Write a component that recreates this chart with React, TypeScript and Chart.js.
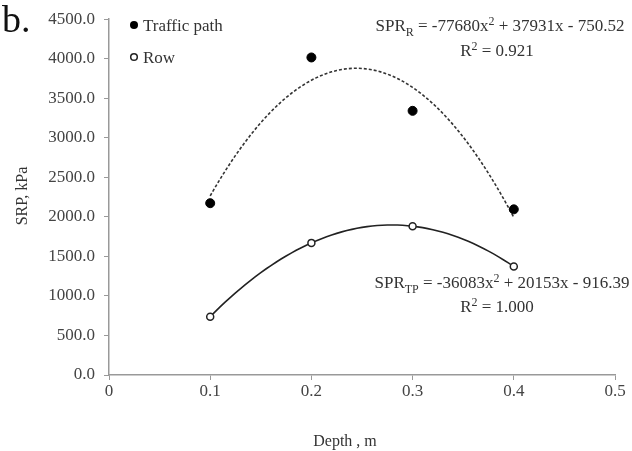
import React, { useEffect, useRef } from 'react';
import { Chart, registerables } from 'chart.js';
Chart.register(...registerables);

const depths = [0.1, 0.2, 0.3, 0.4];
const trafficPath = [2173, 4016, 3341, 2095];
const row = [738, 1671, 1882, 1372];
const coefR = [-77680, 37931, -750.52];
const coefTP = [-36083, 20153, -916.39];
const xTicks = [0, 0.1, 0.2, 0.3, 0.4, 0.5];
const xTickLabels = ['0', '0.1', '0.2', '0.3', '0.4', '0.5'];
const yTicks = [0, 500, 1000, 1500, 2000, 2500, 3000, 3500, 4000, 4500];
const yTickLabels = ['0.0', '500.0', '1000.0', '1500.0', '2000.0', '2500.0', '3000.0', '3500.0', '4000.0', '4500.0'];
const seriesNames = ['Traffic path', 'Row'];
const eqR = [{ t: 'SPR' }, { t: 'R', sub: true }, { t: ' = -77680x' }, { t: '2', sup: true }, { t: ' + 37931x - 750.52' }];
const r2R = [{ t: 'R' }, { t: '2', sup: true }, { t: ' = 0.921' }];
const eqTP = [{ t: 'SPR' }, { t: 'TP', sub: true }, { t: ' = -36083x' }, { t: '2', sup: true }, { t: ' + 20153x - 916.39' }];
const r2TP = [{ t: 'R' }, { t: '2', sup: true }, { t: ' = 1.000' }];
const panelLabel = 'b.';
const xTitle = 'Depth , m';
const yTitle = 'SRP, kPa';

const FONT = "'Liberation Serif', 'Times New Roman', serif";

function trend(c: number[]) {
  const pts: { x: number; y: number }[] = [];
  const x0 = depths[0];
  const x1 = depths[depths.length - 1];
  const n = 60;
  for (let i = 0; i <= n; i++) {
    const x = x0 + ((x1 - x0) * i) / n;
    pts.push({ x, y: c[0] * x * x + c[1] * x + c[2] });
  }
  return pts;
}

type Part = { t: string; sub?: boolean; sup?: boolean };

function drawRich(ctx: CanvasRenderingContext2D, parts: Part[], cx: number, y: number, size: number, color: string) {
  const small = Math.round(size * 0.68);
  let w = 0;
  for (const p of parts) {
    ctx.font = `${p.sub || p.sup ? small : size}px ${FONT}`;
    w += ctx.measureText(p.t).width;
  }
  let x = cx - w / 2;
  ctx.fillStyle = color;
  ctx.textAlign = 'left';
  ctx.textBaseline = 'alphabetic';
  for (const p of parts) {
    ctx.font = `${p.sub || p.sup ? small : size}px ${FONT}`;
    const dy = p.sub ? size * 0.28 : p.sup ? -size * 0.38 : 0;
    ctx.fillText(p.t, x, y + dy);
    x += ctx.measureText(p.t).width;
  }
}

const textPlugin = {
  id: 'texts',
  afterDraw(chart: any) {
    const ctx = chart.ctx as CanvasRenderingContext2D;
    ctx.save();
    // panel label
    ctx.fillStyle = '#111';
    ctx.font = `38px ${FONT}`;
    ctx.textAlign = 'left';
    ctx.textBaseline = 'alphabetic';
    ctx.fillText(panelLabel, 2, 32);
    // legend
    ctx.fillStyle = '#000';
    ctx.beginPath();
    ctx.arc(134, 25, 4, 0, Math.PI * 2);
    ctx.fill();
    ctx.strokeStyle = '#222';
    ctx.lineWidth = 1.5;
    ctx.fillStyle = '#fff';
    ctx.beginPath();
    ctx.arc(134, 57, 3.3, 0, Math.PI * 2);
    ctx.fill();
    ctx.stroke();
    ctx.fillStyle = '#333';
    ctx.font = `17px ${FONT}`;
    ctx.fillText(seriesNames[0], 143, 31);
    ctx.fillText(seriesNames[1], 143, 63);
    // equations
    drawRich(ctx, eqR, 500, 31, 17, '#333');
    drawRich(ctx, r2R, 497, 56, 17, '#333');
    drawRich(ctx, eqTP, 502, 288, 17, '#333');
    drawRich(ctx, r2TP, 497, 312, 17, '#333');
    // axis titles
    ctx.fillStyle = '#333';
    ctx.font = `16px ${FONT}`;
    ctx.textAlign = 'center';
    ctx.fillText(xTitle, 345, 446);
    ctx.translate(27, 196);
    ctx.rotate(-Math.PI / 2);
    ctx.fillText(yTitle, 0, 0);
    ctx.restore();
  },
};

export default function App() {
  const ref = useRef<HTMLCanvasElement>(null);
  useEffect(() => {
    if (!ref.current) return;
    const chart = new Chart(ref.current, {
      type: 'scatter',
      data: {
        datasets: [
          {
            label: seriesNames[0],
            data: depths.map((x, i) => ({ x, y: trafficPath[i] })),
            backgroundColor: '#000',
            borderColor: '#000',
            pointRadius: 4.5,
            order: 0,
          },
          {
            label: seriesNames[1],
            data: depths.map((x, i) => ({ x, y: row[i] })),
            backgroundColor: '#fff',
            borderColor: '#222',
            borderWidth: 1.5,
            pointRadius: 3.5,
            order: 0,
          },
          {
            label: 'trendR',
            data: trend(coefR),
            showLine: true,
            borderColor: '#333',
            borderWidth: 1.6,
            borderDash: [3, 2],
            pointRadius: 0,
            order: 1,
          },
          {
            label: 'trendTP',
            data: trend(coefTP),
            showLine: true,
            borderColor: '#222',
            borderWidth: 1.6,
            pointRadius: 0,
            order: 1,
          },
        ],
      },
      options: {
        responsive: false,
        animation: false,
        layout: { padding: { left: 0, right: 17, top: 14, bottom: 0 } },
        plugins: { legend: { display: false }, tooltip: { enabled: false } },
        scales: {
          x: {
            type: 'linear',
            min: 0,
            max: 0.5,
            afterBuildTicks: (s: any) => {
              s.ticks = xTicks.map((v) => ({ value: v }));
            },
            afterFit: (s: any) => {
              s.height = 76;
            },
            ticks: {
              callback: (_v: any, i: number) => xTickLabels[i],
              color: '#444',
              font: { family: FONT, size: 17 },
              padding: 1,
              maxRotation: 0,
            },
            grid: { drawOnChartArea: false, drawTicks: true, tickLength: 5, color: '#999' },
            border: { color: '#999', width: 1.5 },
          },
          y: {
            type: 'linear',
            min: 0,
            max: 4500,
            afterBuildTicks: (s: any) => {
              s.ticks = yTicks.map((v) => ({ value: v }));
            },
            afterFit: (s: any) => {
              s.width = 109;
            },
            ticks: {
              callback: (_v: any, i: number) => yTickLabels[i],
              color: '#444',
              font: { family: FONT, size: 17 },
              padding: 9,
            },
            grid: { drawOnChartArea: false, drawTicks: true, tickLength: 5, color: '#999' },
            border: { color: '#999', width: 1.5 },
          },
        },
      },
      plugins: [textPlugin],
    });
    return () => chart.destroy();
  }, []);
  return (
    <div style={{ position: 'absolute', left: 0, top: 0, width: 632, height: 451, background: '#fff' }}>
      <canvas ref={ref} width={632} height={451} style={{ display: 'block' }} />
    </div>
  );
}
